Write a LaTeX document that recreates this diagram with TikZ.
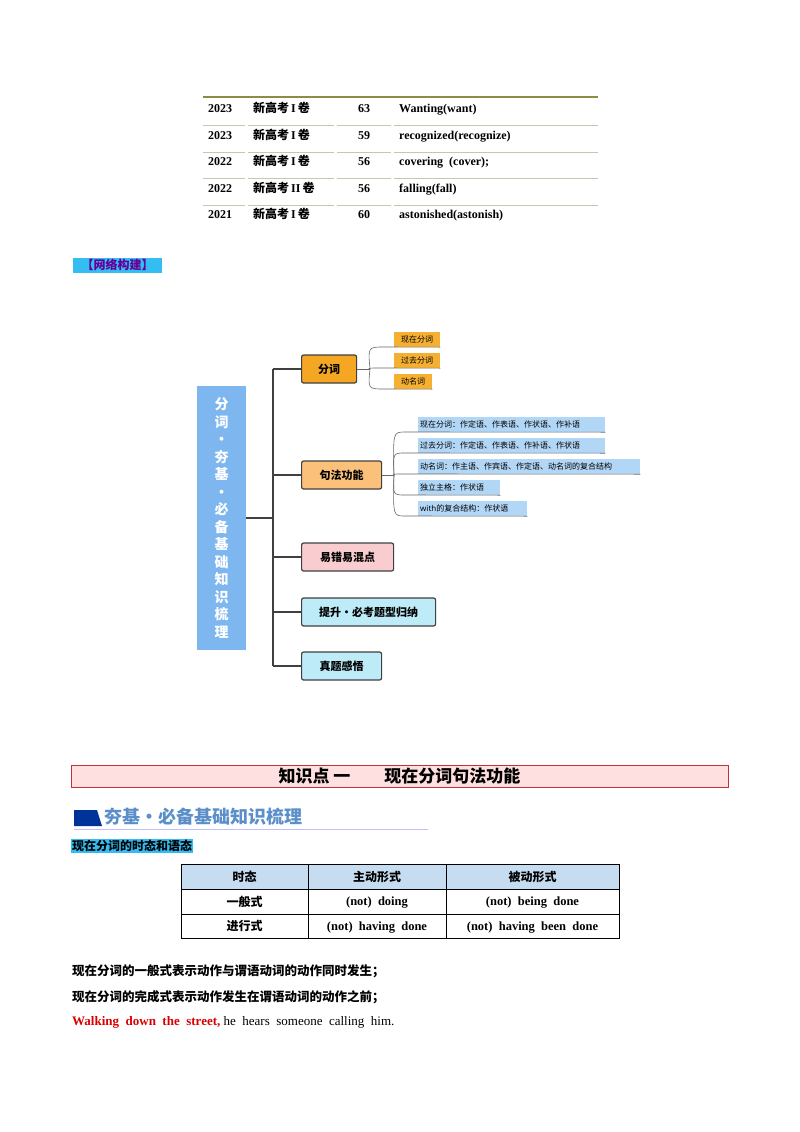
\documentclass[tikz,border=0pt]{standalone}
\usepackage{fontspec}
\setmainfont{Liberation Serif}
\newfontfamily\cjk{Noto Sans CJK SC}
\definecolor{cblue}{RGB}{126,182,240}
\definecolor{leafblue}{RGB}{178,214,245}
\definecolor{leaforange}{RGB}{245,176,50}
\definecolor{bor}{RGB}{245,166,35}
\definecolor{bor2}{RGB}{251,192,122}
\definecolor{bpink}{RGB}{249,205,208}
\definecolor{bcyan}{RGB}{189,235,248}
\definecolor{thead}{RGB}{198,220,240}
\definecolor{banblue}{RGB}{91,143,201}
\begin{document}
\begin{tikzpicture}[x=1pt,y=-1pt,
  cell/.style={inner sep=0pt,anchor=base west,font=\bfseries\fontsize{12}{12}\selectfont},
  branch/.style={draw=black!75,line width=1.2pt,rounded corners=2pt,minimum height=28pt,inner sep=0pt,font=\cjk\bfseries\fontsize{11}{11}\selectfont,anchor=west},
  leafo/.style={fill=leaforange,inner sep=0pt,minimum height=15pt,anchor=west,font=\cjk\fontsize{8}{8}\selectfont},
  leafb/.style={fill=leafblue,inner sep=0pt,minimum height=15pt,anchor=west,font=\cjk\fontsize{8}{8}\selectfont},
  trunk/.style={draw=black!75,line width=1.6pt},
  twig/.style={draw=black!60,line width=0.6pt}]
\useasboundingbox (0,0) rectangle (800,1132);
% top table
\draw[line width=2.5pt,draw=olive!50!gray] (203,97) -- (598,97);
\foreach \y in {125,152,178,205}{
 \draw[line width=1pt,draw=olive!25!gray!50] (203,\y)--(245,\y) (248,\y)--(334,\y) (337,\y)--(391,\y) (394,\y)--(598,\y);}
\foreach \y/\a/\b/\c/\d [count=\i] in {112/2023/I/63/Wanting(want),139/2023/I/59/recognized(recognize),165/2022/I/56/{covering\ \ (cover);},192/2022/II/56/falling(fall),218/2021/I/60/astonished(astonish)}{
 \node[cell] (y\i) at (208,\y) {\a};
 \node[cell] (k\i) at (253,\y) {{\cjk 新高考}\,\b\,{\cjk 卷}};
 \node[cell] (n\i) at (358,\y) {\c};
 \node[cell] (w\i) at (399,\y) {\d};}
\node[fill=cyan!80,text=violet!80!blue,minimum width=89pt,minimum height=15pt,inner sep=0pt,anchor=west,font=\cjk\bfseries\fontsize{12}{12}\selectfont] (wl) at (73,265) {【网络构建】};
% mind map
\node[fill=cblue,minimum width=49pt,minimum height=264pt,inner sep=0pt,text=white,font=\cjk\bfseries\fontsize{14}{17.5}\selectfont,align=center] (c) at (221.5,518) {分\\词\\·\\夯\\基\\·\\必\\备\\基\\础\\知\\识\\梳\\理};
\node[branch,fill=bor,minimum width=55pt] (b1) at (301,369) {分词};
\node[branch,fill=bor2,minimum width=80pt] (b2) at (301,475) {句法功能};
\node[branch,fill=bpink,minimum width=92pt] (b3) at (301,557) {易错易混点};
\node[branch,fill=bcyan,minimum width=134pt] (b4) at (301,612) {提升·必考题型归纳};
\node[branch,fill=bcyan,minimum width=80pt] (b5) at (301,666) {真题感悟};
\coordinate (tt) at (273,369);
\coordinate (tb) at (273,666);
\coordinate (tm) at (273,518);
\draw[trunk] (c.east|-tm) -- (tm);
\draw[trunk] (tt) -- (tb);
\foreach \b in {b1,b2,b3,b4,b5} \draw[trunk] (tt|-\b.west) -- (\b.west);
\node[leafo,minimum width=46pt] (l1) at (394,339.5) {现在分词};
\node[leafo,minimum width=46pt] (l2) at (394,360.5) {过去分词};
\node[leafo,minimum width=38pt] (l3) at (394,381.5) {动名词};
\coordinate (f1) at (370,369);
\draw[twig] (b1.east) -- (f1);
\foreach \l/\yy in {l1/347,l2/368,l3/389}{
 \draw[twig] (f1) .. controls (368,\yy) and (368,\yy) .. (384,\yy) -- (\l.south east);}
\begin{scope}[every node/.append style={text width=#1}]
\end{scope}
\node[leafb,minimum width=187pt,align=left,text width=183pt,inner xsep=2pt] (m1) at (418,424.5) {现在分词：作定语、作表语、作状语、作补语};
\node[leafb,minimum width=187pt,align=left,text width=183pt,inner xsep=2pt] (m2) at (418,445.5) {过去分词：作定语、作表语、作补语、作状语};
\node[leafb,minimum width=222pt,align=left,text width=218pt,inner xsep=2pt] (m3) at (418,466.5) {动名词：作主语、作宾语、作定语、动名词的复合结构};
\node[leafb,minimum width=82pt,align=left,text width=78pt,inner xsep=2pt] (m4) at (418,487.5) {独立主格：作状语};
\node[leafb,minimum width=109pt,align=left,text width=105pt,inner xsep=2pt] (m5) at (418,508.5) {{\fontspec{Noto Sans}with}的复合结构：作状语};
\coordinate (f2) at (394,475);
\draw[twig] (b2.east) -- (f2);
\foreach \l/\yy in {m1/432,m2/453,m3/474,m4/495,m5/516}{
 \draw[twig] (f2) .. controls (393,\yy) and (393,\yy) .. (405,\yy) -- (\l.south east);}
% section header
\node[draw=red!70!black!80,line width=1pt,fill=red!12,minimum width=657pt,minimum height=22pt,inner sep=0pt,font=\cjk\bfseries\fontsize{17}{17}\selectfont] (sec) at (399.5,776) {知识点\ 一\qquad 现在分词句法功能};
\fill[blue!50!black!80!cyan] (74,810) -- (97,810) -- (102,826) -- (74,826);
\draw[blue!25,line width=0.8pt] (74,829) -- (428,829);
\node[inner sep=0pt,anchor=west,text=banblue,font=\cjk\bfseries\fontsize{18}{18}\selectfont] (ban) at (104,817) {夯基·必备基础知识梳理};
\node[fill=cyan!80,inner sep=1pt,anchor=west,font=\cjk\bfseries\fontsize{12}{12}\selectfont] (hl) at (71,846) {现在分词的时态和语态};
% table 2
\fill[thead] (181,864) rectangle (619,889);
\draw[line width=0.8pt] (181,864) rectangle (619,938) (181,889)--(619,889) (181,914)--(619,914) (308,864)--(308,938) (446,864)--(446,938);
\begin{scope}[font=\cjk\bfseries\fontsize{12}{12}\selectfont]
\node (h1) at (244.5,876.5) {时态};
\node (h2) at (377,876.5) {主动形式};
\node (h3) at (532.5,876.5) {被动形式};
\node (r1) at (244.5,901.5) {一般式};
\node (r2) at (244.5,926) {进行式};
\end{scope}
\begin{scope}[every node/.style={anchor=base},font=\bfseries\fontsize{12.5}{12}\selectfont]
\node (a1) at (377,905.5) {(not)\ \ doing};
\node (a2) at (532.5,905.5) {(not)\ \ being\ \ done};
\node (a3) at (377,930) {(not)\ \ having\ \ done};
\node (a4) at (532.5,930) {(not)\ \ having\ \ been\ \ done};
\end{scope}
\node[inner sep=0pt,anchor=west,font=\cjk\bfseries\fontsize{12.5}{12}\selectfont] (t1) at (72,971) {现在分词的一般式表示动作与谓语动词的动作同时发生；};
\node[inner sep=0pt,anchor=west,font=\cjk\bfseries\fontsize{12.5}{12}\selectfont] (t2) at (72,997) {现在分词的完成式表示动作发生在谓语动词的动作之前；};
\node[inner sep=0pt,anchor=base west,font=\fontsize{13}{13}\selectfont] (t3) at (72,1025) {\textcolor{red!85!black}{\bfseries Walking\ \ down\ \ the\ \ street,}\ he\ \ hears\ \ someone\ \ calling\ \ him.};
\end{tikzpicture}
\end{document}
